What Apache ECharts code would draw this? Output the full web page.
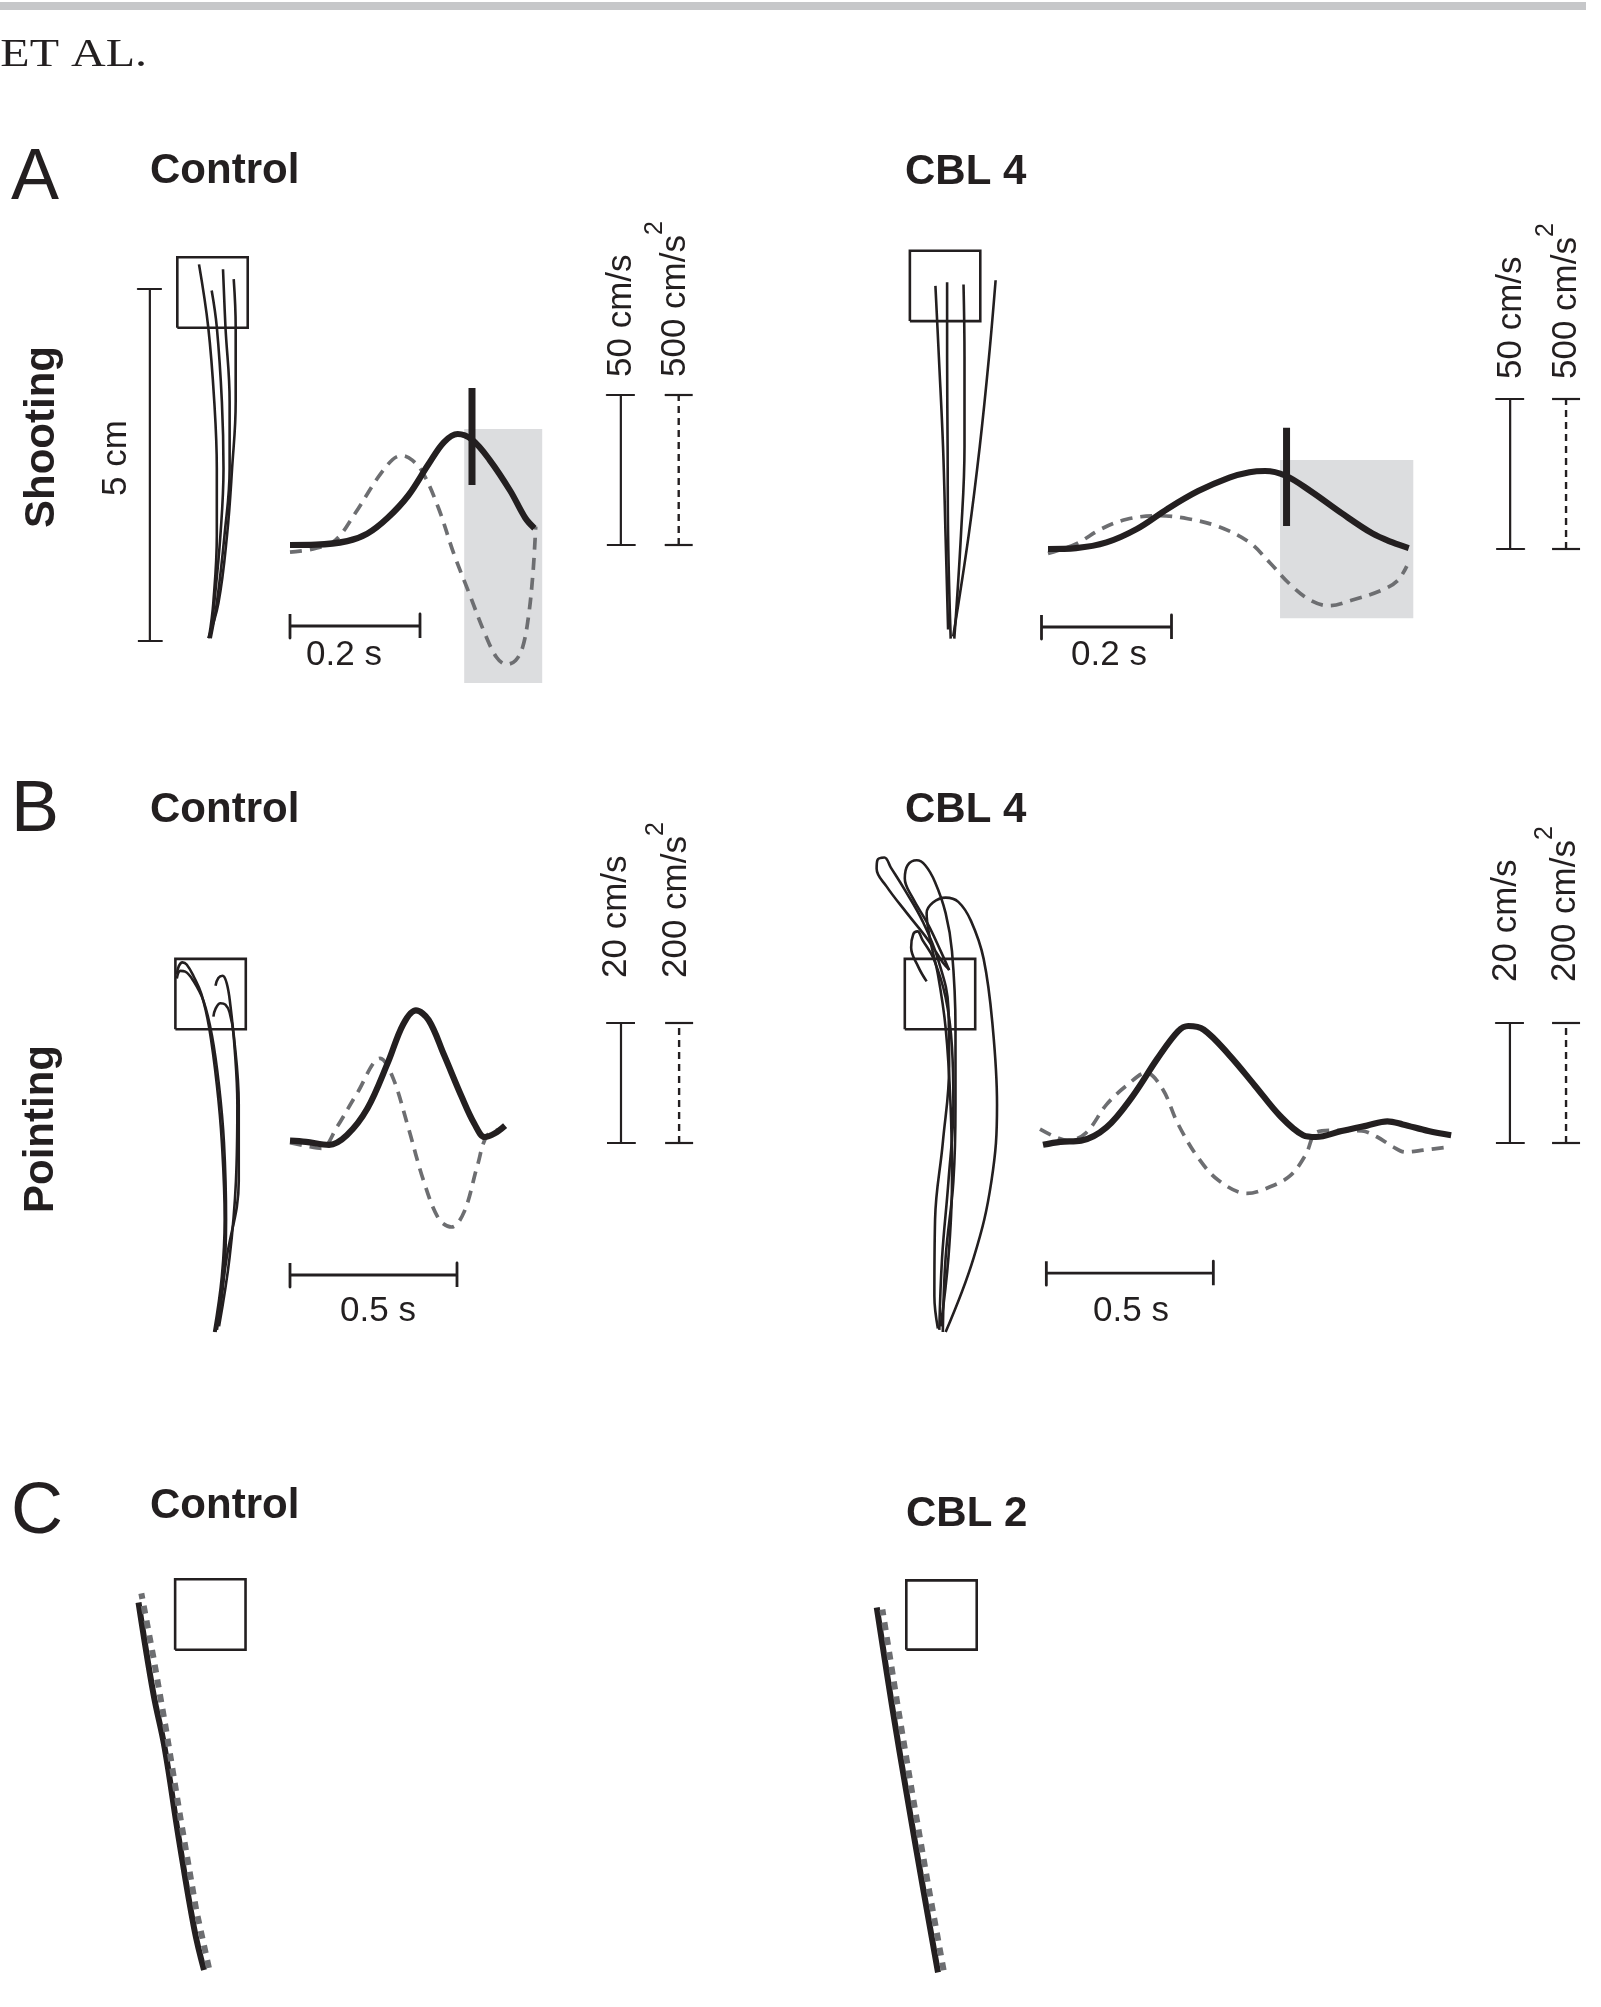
<!DOCTYPE html>
<html>
<head>
<meta charset="utf-8">
<script src="https://cdn.jsdelivr.net/npm/echarts@6/dist/echarts.min.js"></script>
<style>
  html, body { margin: 0; padding: 0; background: #fff; }
  #chart { width: 1601px; height: 2007px; }
</style>
</head>
<body>
<div id="chart"></div>
<script>
// ---------- data: hand paths in cm (start = origin), kinematics as [s, value] ----------

// A  shooting, control
const shootCtrlPath1 = [[0.003, 0.07], [0.061, 0.54], [0.111, 1.50], [0.111, 2.45], [0.075, 3.40], [-0.011, 4.46], [-0.142, 5.35]];
const shootCtrlPath2 = [[0.017, 0.04], [0.075, 0.54], [0.162, 1.50], [0.206, 2.45], [0.183, 3.40], [0.111, 4.46], [0.038, 4.98]];
const shootCtrlPath3 = [[0.024, 0.04], [0.111, 0.54], [0.220, 1.50], [0.293, 2.45], [0.293, 3.40], [0.234, 4.46], [0.199, 5.28]];
const shootCtrlPath4 = [[-0.011, 0.04], [0.134, 0.54], [0.256, 1.50], [0.328, 2.45], [0.379, 3.40], [0.379, 4.46], [0.351, 5.14]];
const shootCtrlTarget = [-0.45, 4.45];
const shootCtrlVel = [[0, 0], [0.04, 0.1], [0.088, 1.3], [0.119, 3.8], [0.15, 9.0], [0.182, 16.5], [0.213, 26.9], [0.237, 34.3],
  [0.258, 37.0], [0.28, 35.1], [0.307, 28.4], [0.339, 18.0], [0.362, 9.0], [0.376, 5.6]];
const shootCtrlAcc = [[0, -24], [0.04, -11], [0.07, 16], [0.1, 105], [0.135, 224], [0.158, 285], [0.172, 298], [0.188, 283],
  [0.205, 239], [0.229, 120], [0.252, -29], [0.276, -163], [0.3, -296], [0.318, -375], [0.333, -398], [0.347, -385],
  [0.358, -340], [0.367, -237], [0.374, -88], [0.378, 61]];
const shootCtrlShade = [0.268, 0.388];
const shootCtrlMark = 0.28;

// A  shooting, CBL 4
const shootCblPath1 = [[-0.027, 0.15], [-0.063, 1.48], [-0.099, 2.75], [-0.158, 4.02], [-0.207, 5.03]];
const shootCblPath2 = [[0.010, 0.02], [-0.027, 1.48], [-0.034, 2.75], [-0.041, 4.02], [-0.041, 5.08]];
const shootCblPath3 = [[0.061, 0.02], [0.155, 1.48], [0.206, 2.75], [0.206, 4.02], [0.192, 5.05]];
const shootCblPath4 = [[0.045, 0.05], [0.264, 1.48], [0.423, 2.75], [0.554, 4.02], [0.648, 5.11]];
const shootCblTarget = [-0.57, 4.53];
const shootCblVel = [[0, 0], [0.043, 0.3], [0.09, 2.2], [0.137, 6.7], [0.184, 13.4], [0.231, 19.3], [0.279, 23.8], [0.31, 25.6],
  [0.334, 26.0], [0.365, 24.5], [0.404, 19.3], [0.452, 11.9], [0.499, 5.2], [0.53, 2.2], [0.555, 0.3]];
const shootCblAcc = [[0, -15], [0.043, 17], [0.082, 67], [0.121, 99], [0.168, 111], [0.215, 101], [0.263, 74], [0.31, 22],
  [0.341, -45], [0.373, -119], [0.404, -171], [0.432, -189], [0.467, -171], [0.514, -137], [0.538, -105], [0.552, -57]];
const shootCblShade = [0.357, 0.562];
const shootCblMark = 0.367;

// B  pointing, control
const pointCtrlPath1 = [[0.03, 0.00], [0.14, 0.79], [0.18, 1.60], [0.14, 2.69], [0.07, 3.50], [-0.04, 4.32], [-0.15, 4.80],
  [-0.26, 5.05], [-0.36, 5.22], [-0.42, 5.25], [-0.47, 5.20], [-0.50, 5.08]];
const pointCtrlPath2 = [[0.07, 0.03], [0.17, 0.79], [0.20, 1.60], [0.17, 2.69], [0.10, 3.50], [0.00, 4.21], [-0.12, 4.70],
  [-0.26, 4.98], [-0.38, 5.12], [-0.45, 5.13], [-0.50, 5.02]];
const pointCtrlPath3 = [[0.10, 0.08], [0.25, 1.06], [0.34, 2.14], [0.36, 3.23], [0.32, 4.05], [0.26, 4.65], [0.21, 4.95],
  [0.15, 5.06], [0.09, 5.03], [0.05, 4.92]];
const pointCtrlPath4 = [[0.05, 0.00], [0.21, 1.06], [0.38, 2.14], [0.38, 3.23], [0.31, 4.21], [0.25, 4.54], [0.19, 4.65],
  [0.12, 4.67], [0.05, 4.59], [0.02, 4.48]];
const pointCtrlTarget = [-0.52, 4.30];
const pointCtrlVel = [[0, 0.4], [0.048, 0.2], [0.117, -0.3], [0.17, 1.3], [0.232, 5.8], [0.293, 13.4], [0.339, 19.8], [0.377, 22.1],
  [0.415, 20.5], [0.461, 14.7], [0.514, 7.7], [0.552, 3.2], [0.583, 1.0], [0.613, 1.6], [0.644, 2.9]];
const pointCtrlAcc = [[0, 0.5], [0.048, -5], [0.094, -9], [0.14, 26], [0.201, 83], [0.27, 141], [0.308, 109], [0.354, 26],
  [0.4, -63], [0.446, -127], [0.484, -140], [0.522, -114], [0.561, -38], [0.591, 13], [0.637, 23]];

// B  pointing, CBL 4
const pointCblPath1 = [[-0.03, 0.05], [-0.08, 0.51], [-0.07, 1.60], [0.04, 2.69], [0.13, 3.78], [0.12, 4.59], [-0.03, 5.30],
  [-0.25, 5.84], [-0.50, 6.28], [-0.70, 6.60], [-0.79, 6.74], [-0.89, 6.70], [-0.90, 6.58], [-0.76, 6.33], [-0.47, 5.95],
  [-0.17, 5.57], [0.04, 5.25], [0.13, 5.15]];
const pointCblPath2 = [[0.04, 0.00], [0.08, 1.06], [0.19, 2.14], [0.22, 3.23], [0.22, 4.32], [0.17, 5.41], [0.08, 5.95],
  [-0.07, 6.39], [-0.21, 6.63], [-0.33, 6.70], [-0.46, 6.63], [-0.50, 6.44], [-0.39, 6.17], [-0.17, 5.79], [0.01, 5.41], [0.13, 5.14]];
const pointCblPath3 = [[0.08, 0.00], [0.48, 1.06], [0.73, 2.14], [0.81, 3.23], [0.75, 4.32], [0.62, 5.30], [0.44, 5.84],
  [0.26, 6.11], [0.08, 6.17], [-0.10, 6.10], [-0.19, 5.95], [-0.14, 5.57], [-0.03, 5.08], [0.08, 4.32], [0.15, 3.23],
  [0.17, 2.14], [0.12, 1.06], [0.01, 0.08]];
const pointCblPath4 = [[-0.01, 0.03], [0.03, 1.06], [0.12, 2.14], [0.19, 3.23], [0.17, 4.05], [0.08, 4.75], [-0.09, 5.30],
  [-0.25, 5.57], [-0.32, 5.69], [-0.38, 5.65], [-0.41, 5.46], [-0.31, 5.19], [-0.19, 4.98]];
const pointCblTarget = [-0.50, 4.30];
const pointCblVel = [[0, -0.3], [0.052, 0.2], [0.114, 0.4], [0.19, 2.6], [0.267, 7.7], [0.343, 14.1], [0.404, 18.6], [0.435, 19.5],
  [0.481, 18.9], [0.557, 14.7], [0.634, 9.6], [0.71, 4.5], [0.779, 1.3], [0.817, 1.0], [0.894, 2.0], [0.97, 2.9],
  [1.031, 3.6], [1.077, 3.1], [1.154, 2.0], [1.222, 1.3]];
const pointCblAcc = [[-0.009, 23], [0.037, 10], [0.075, 4], [0.129, 17], [0.19, 64], [0.251, 96], [0.309, 117], [0.358, 90],
  [0.404, 32], [0.465, -25], [0.527, -63], [0.611, -84], [0.68, -73], [0.741, -54], [0.787, -19], [0.817, 17], [0.863, 21],
  [0.955, 20], [1.001, 10], [1.047, -6], [1.085, -15], [1.138, -12], [1.222, -6]];

// C  straight paths (solid and dashed)
const lineCtrlSolid = [[0, 0], [-0.14, 0.59], [-0.36, 1.88], [-0.56, 3.16], [-0.72, 3.93], [-0.93, 5.22]];
const lineCtrlDashed = [[0.07, 0.03], [-0.11, 0.85], [-0.33, 2.13], [-0.54, 3.42], [-0.72, 4.45], [-0.89, 5.35]];
const lineCtrlTarget = [-0.41, 4.55];
const lineCblSolid = [[0, 0], [-0.22, 1.26], [-0.44, 2.55], [-0.65, 3.83], [-0.87, 5.27]];
const lineCblDashed = [[0.08, 0.03], [-0.14, 1.26], [-0.36, 2.55], [-0.57, 3.83], [-0.79, 5.24]];
const lineCblTarget = [-0.45, 4.66];

// scale bars
const distBar = 5;            // cm
const shootVelBar = 50;       // cm/s
const shootAccBar = 500;      // cm/s^2
const shootTimeBar = 0.2;     // s
const pointVelBar = 20;
const pointAccBar = 200;
const pointTimeBar = 0.5;

// ---------- drawing ----------
const INK = '#231f20';
const GREY = '#6d6e71';
const SHADE = '#dcdddf';
const SANS = '"Liberation Sans", Arial, Helvetica, sans-serif';
const SERIF = '"Liberation Serif", "Times New Roman", serif';
const CM = 70.4; // px per cm in the path panels

const grid = [], xAxis = [], yAxis = [], series = [], graphic = [];

function addAxes(left, top, width, height, xr, yrs) {
  const g = grid.length;
  grid.push({ left, top, width, height });
  xAxis.push({ type: 'value', gridIndex: g, min: xr[0], max: xr[1], show: false });
  const xi = xAxis.length - 1;
  const yis = yrs.map(function (yr) {
    yAxis.push({ type: 'value', gridIndex: g, min: yr[0], max: yr[1], show: false });
    return yAxis.length - 1;
  });
  return { xi, yis };
}

function line(xi, yi, data, color, width, dash, extra) {
  return Object.assign({
    type: 'line', xAxisIndex: xi, yAxisIndex: yi, data,
    symbol: 'none', silent: true, z: 3,
    lineStyle: { color, width, type: dash || 'solid', cap: 'butt', join: 'round' }
  }, extra || {});
}

function pathPanel(origin, paths, corner, width, dashed) {
  const xr = [-1.5, 1.5], yr = [-0.5, 7.5];
  const a = addAxes(origin[0] + xr[0] * CM, origin[1] - yr[1] * CM, (xr[1] - xr[0]) * CM, (yr[1] - yr[0]) * CM, xr, [yr]);
  const yi = a.yis[0];
  const x0 = corner[0], y0 = corner[1];
  const square = [[x0, y0], [x0 + 1, y0], [x0 + 1, y0 + 1], [x0, y0 + 1], [x0, y0]];
  const sq = line(a.xi, yi, square, INK, 2.6);
  sq.lineStyle.join = 'miter';
  series.push(sq);
  paths.forEach(function (p) {
    series.push(line(a.xi, yi, p, INK, width, 'solid', { smooth: 0.4 }));
  });
  if (dashed) series.push(line(a.xi, yi, dashed, GREY, 6, [8, 7], { z: 4 }));
  return { xi: a.xi, yi };
}

function kinPanel(o, kx, kv, tr, vr, vel, acc, bars, shade, mark) {
  const a = addAxes(o[0] + tr[0] * kx, o[1] - vr * kv, (tr[1] - tr[0]) * kx, 2 * vr * kv, tr, [[-vr, vr], [-vr * 10, vr * 10]]);
  const xi = a.xi, vy = a.yis[0], ay = a.yis[1];
  const dv = 12 / kv, dt = 14 / kx;

  const tb = bars.time; // [t0, t1, v]
  const timeBar = line(xi, vy, [[tb[0], tb[2] + dv], [tb[0], tb[2] - dv], [tb[0], tb[2]], [tb[1], tb[2]],
    [tb[1], tb[2] + dv], [tb[1], tb[2] - dv]], INK, 2.8, 'solid', { z: 1 });
  if (shade) {
    timeBar.markArea = {
      silent: true, label: { show: false },
      itemStyle: { color: SHADE, opacity: 1, borderWidth: 0 },
      data: [[{ coord: [shade[0], shade[2]] }, { coord: [shade[1], shade[3]] }]]
    };
  }
  series.push(timeBar);

  const tv = bars.vel[0], vb = bars.vel[1];
  series.push(line(xi, vy, [[tv - dt, 0], [tv + dt, 0], [tv, 0], [tv, vb], [tv - dt, vb], [tv + dt, vb]], INK, 2.2));
  const ta = bars.acc[0], ab = bars.acc[1];
  series.push(line(xi, ay, [[ta - dt, 0], [ta + dt, 0]], INK, 2.2));
  series.push(line(xi, ay, [[ta - dt, ab], [ta + dt, ab]], INK, 2.2));
  series.push(line(xi, ay, [[ta, 0], [ta, ab]], INK, 2.4, [7, 5]));

  series.push(line(xi, ay, acc, GREY, 3.7, [12, 8], { smooth: 0.35, z: 3 }));
  series.push(line(xi, vy, vel, INK, 6.2, 'solid', { smooth: 0.35, z: 4 }));
  if (mark) series.push(line(xi, vy, [[mark[0], mark[1]], [mark[0], mark[2]]], INK, 7, 'solid', { z: 5 }));
}

// A  shooting
const aCtrlPaths = pathPanel([209, 641], [shootCtrlPath1, shootCtrlPath2, shootCtrlPath3, shootCtrlPath4], shootCtrlTarget, 2.6);
const dc = 12 / CM;
series.push(line(aCtrlPaths.xi, aCtrlPaths.yi, [[-0.84 - dc, 0], [-0.84 + dc, 0], [-0.84, 0], [-0.84, distBar],
  [-0.84 - dc, distBar], [-0.84 + dc, distBar]], INK, 2.2));
kinPanel([290, 545], 650, 3, [-0.1, 0.7], 60, shootCtrlVel, shootCtrlAcc,
  { time: [0, shootTimeBar, -27], vel: [0.509, shootVelBar], acc: [0.598, shootAccBar] },
  [shootCtrlShade[0], shootCtrlShade[1], -46, 38.7], [shootCtrlMark, 20, 52.3]);

pathPanel([950, 640], [shootCblPath1, shootCblPath2, shootCblPath3, shootCblPath4], shootCblTarget, 2.6);
kinPanel([1048, 549], 650, 3, [-0.1, 0.85], 60, shootCblVel, shootCblAcc,
  { time: [-0.01, shootTimeBar - 0.01, -26], vel: [0.711, shootVelBar], acc: [0.797, shootAccBar] },
  [shootCblShade[0], shootCblShade[1], -23.1, 29.7], [shootCblMark, 7.7, 40.4]);

// B  pointing
pathPanel([212, 1332], [pointCtrlPath1, pointCtrlPath2, pointCtrlPath3, pointCtrlPath4], pointCtrlTarget, 2.6);
kinPanel([290, 1143], 334, 6, [-0.1, 1.3], 30, pointCtrlVel, pointCtrlAcc,
  { time: [0, pointTimeBar, -22], vel: [0.991, pointVelBar], acc: [1.165, pointAccBar] }, null, null);

pathPanel([940, 1332], [pointCblPath1, pointCblPath2, pointCblPath3, pointCblPath4], pointCblTarget, 2.6);
kinPanel([1043, 1143], 334, 6, [-0.1, 1.65], 30, pointCblVel, pointCblAcc,
  { time: [0.01, pointTimeBar + 0.01, -21.7], vel: [1.398, pointVelBar], acc: [1.566, pointAccBar] }, null, null);

// C  straight
pathPanel([204, 1970], [lineCtrlSolid], lineCtrlTarget, 6, lineCtrlDashed);
pathPanel([938, 1981], [lineCblSolid], lineCblTarget, 6, lineCblDashed);

// ---------- text ----------
function text(str, x, y, size, o) {
  o = o || {};
  const el = {
    type: 'text', x, y, silent: true, z: 10,
    style: {
      text: str, fill: INK, fontSize: size, fontFamily: o.family || SANS, fontWeight: o.weight || 'normal',
      align: o.align || 'left', verticalAlign: 'middle'
    }
  };
  if (o.rotate) el.rotation = Math.PI / 2;
  if (o.scaleX) el.scaleX = o.scaleX;
  graphic.push(el);
}

graphic.push({ type: 'rect', shape: { x: 0, y: 2, width: 1586, height: 8 }, style: { fill: '#c6c7c9' }, silent: true });
text('ET', 59, 55, 40, { family: SERIF, scaleX: 1.2, align: 'right' });
text('AL.', 71, 55, 40, { family: SERIF, scaleX: 1.2 });

text('A', 11, 179, 72);
text('B', 11, 811, 72);
text('C', 11, 1513, 72);

text('Control', 150, 171, 42, { weight: 'bold' });
text('CBL 4', 905, 172, 42, { weight: 'bold' });
text('Control', 150, 810, 42, { weight: 'bold' });
text('CBL 4', 905, 810, 42, { weight: 'bold' });
text('Control', 150, 1506, 42, { weight: 'bold' });
text('CBL 2', 906, 1514, 42, { weight: 'bold' });

text('Shooting', 42, 437, 42, { weight: 'bold', rotate: true, align: 'center' });
text('Pointing', 41, 1129, 42, { weight: 'bold', rotate: true, align: 'center' });

text('5 cm', 116, 458, 35, { rotate: true, align: 'center' });

text('0.2 s', 344, 655, 35, { align: 'center' });
text('0.2 s', 1109, 655, 35, { align: 'center' });
text('0.5 s', 378, 1311, 35, { align: 'center' });
text('0.5 s', 1131, 1311, 35, { align: 'center' });

// rotated unit labels: [velocity text, x, bottom y], [acceleration text, x, bottom y]
const unitLabels = [
  ['50 cm/s', 621, 377, '500 cm/s', 675, 377],
  ['50 cm/s', 1511, 379, '500 cm/s', 1566, 379],
  ['20 cm/s', 616, 978, '200 cm/s', 676, 978],
  ['20 cm/s', 1506, 982, '200 cm/s', 1565, 982]
];
unitLabels.forEach(function (u) {
  text(u[0], u[1], u[2], 35, { rotate: true });
  text(u[3], u[4], u[5], 35, { rotate: true });
  text('2', u[4] - 20, u[5] - 142 - 7, 25, { rotate: true, align: 'center' });
});

const chart = echarts.init(document.getElementById('chart'));
chart.setOption({
  backgroundColor: '#ffffff',
  animation: false,
  grid, xAxis, yAxis, series, graphic
});
</script>
</body>
</html>
